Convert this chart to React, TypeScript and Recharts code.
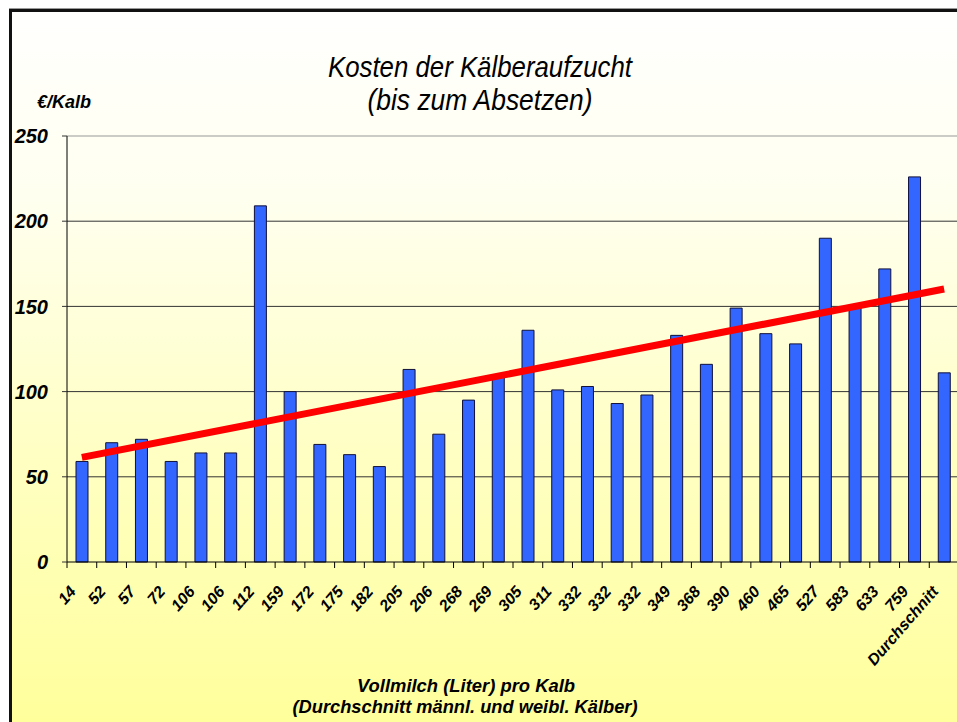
import React from 'react';
import { ComposedChart, Bar, XAxis, YAxis, CartesianGrid, ReferenceLine } from 'recharts';

const categories = [
  '14', '52', '57', '72', '106', '106', '112', '159', '172', '175', '182', '205', '206', '268', '269',
  '305', '311', '332', '332', '332', '349', '368', '390', '460', '465', '527', '583', '633', '759', 'Durchschnitt',
];
const costs = [
  59, 70, 72, 59, 64, 64, 209, 100, 69, 63, 56, 113, 75, 95, 109,
  136, 101, 103, 93, 98, 133, 116, 149, 134, 128, 190, 150, 172, 226, 111,
];
const yTicks = [0, 50, 100, 150, 200, 250];
const gridValues = [50, 100, 150, 200];
const trendStart = 61.4;
const trendEnd = 160.2;

const data = categories.map((label, i) => ({ idx: i, label, cost: costs[i] }));

const FONT = '"Liberation Sans", Arial, sans-serif';

const XTick = (props: any) => {
  const { x, y, payload, width } = props;
  const half = payload && payload.offset > 0 ? payload.offset : (width || 892) / categories.length / 2;
  const label = categories[payload.value];
  const ax = x - 5;
  const ay = y + 30;
  return (
    <g>
      <line x1={x - half} x2={x - half} y1={y} y2={y + 6} stroke="#000" strokeWidth={1} />
      <text
        x={ax}
        y={ay}
        textAnchor="end"
        transform={`rotate(-49, ${ax}, ${ay})`}
        fontFamily={FONT}
        fontSize={16}
        fontWeight="bold"
        fontStyle="italic"
        fill="#000"
      >
        {label}
      </text>
    </g>
  );
};

export default function App() {
  return (
    <div style={{ position: 'absolute', left: 0, top: 0, width: 957, height: 722, overflow: 'hidden', background: '#fff' }}>
      {/* frame with gradient */}
      <div
        style={{
          position: 'absolute', left: 9, top: 9, width: 960, height: 730,
          border: '3px solid #111', boxShadow: '0 -1px 0 #999',
          background: 'linear-gradient(to bottom, #fffffe 0%, #fffff0 25%, #ffffc4 60%, #ffff99 100%)',
        }}
      />
      <div style={{ position: 'absolute', left: 0, top: 0 }}>
        <ComposedChart width={962} height={722} data={data} margin={{ top: 136, right: 3, bottom: 130, left: 7 }}>
          <CartesianGrid vertical={false} horizontalValues={gridValues} stroke="#333" strokeWidth={1} />
          <ReferenceLine y={250} stroke="#999" strokeWidth={1} />
          <XAxis
            dataKey="idx"
            type="category"
            height={30}
            axisLine={{ stroke: '#000', strokeWidth: 1 }}
            tickLine={false}
            tickSize={0}
            tickMargin={0}
            interval={0}
            tick={<XTick />}
          />
          <YAxis
            width={60}
            domain={[0, 250]}
            ticks={yTicks}
            interval={0}
            axisLine={{ stroke: '#000', strokeWidth: 1 }}
            tickLine={{ stroke: '#333' }}
            tickSize={5}
            tickMargin={14}
            tick={{ fontFamily: FONT, fontSize: 20, fontWeight: 'bold', fontStyle: 'italic', fill: '#000' }}
          />
          <Bar dataKey="cost" fill="#3366ff" stroke="#10103a" strokeWidth={1} barSize={12} isAnimationActive={false} />
          <ReferenceLine
            segment={[{ x: 0, y: trendStart }, { x: categories.length - 1, y: trendEnd }]}
            stroke="#ff0000"
            strokeWidth={7}
            ifOverflow="visible"
          />
        </ComposedChart>
      </div>
      <svg width={957} height={722} style={{ position: 'absolute', left: 0, top: 0, pointerEvents: 'none' }}>
        <text x={480} y={77} textAnchor="middle" fontFamily={FONT} fontSize={30} fontStyle="italic" fill="#000"
          textLength={304} lengthAdjust="spacingAndGlyphs">
          Kosten der Kälberaufzucht
        </text>
        <text x={480} y={110} textAnchor="middle" fontFamily={FONT} fontSize={30} fontStyle="italic" fill="#000"
          textLength={225} lengthAdjust="spacingAndGlyphs">
          (bis zum Absetzen)
        </text>
        <text x={37} y={108} fontFamily={FONT} fontSize={18} fontWeight="bold" fontStyle="italic" fill="#000">
          €/Kalb
        </text>
        <text x={466} y={692} textAnchor="middle" fontFamily={FONT} fontSize={19} fontWeight="bold" fontStyle="italic" fill="#000"
          textLength={218} lengthAdjust="spacingAndGlyphs">
          Vollmilch (Liter) pro Kalb
        </text>
        <text x={465} y={713} textAnchor="middle" fontFamily={FONT} fontSize={19} fontWeight="bold" fontStyle="italic" fill="#000"
          textLength={345} lengthAdjust="spacingAndGlyphs">
          (Durchschnitt männl. und weibl. Kälber)
        </text>
      </svg>
    </div>
  );
}
